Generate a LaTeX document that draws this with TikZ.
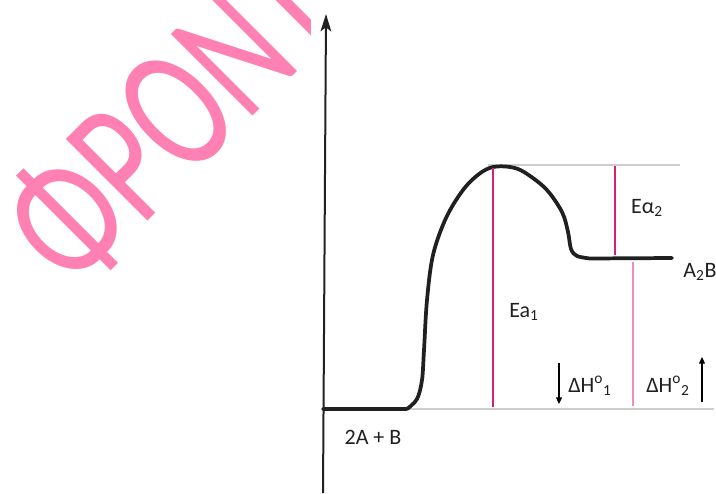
\documentclass[tikz,border=0pt]{standalone}
\usepackage{fontspec}
\setmainfont{Carlito}
\usetikzlibrary{positioning,arrows.meta}
\definecolor{MarkPink}{RGB}{255,128,178}
\definecolor{LevelGray}{RGB}{205,205,205}
\definecolor{EaMagenta}{RGB}{214,30,122}
\definecolor{SoftPink}{RGB}{240,140,192}
\definecolor{CurveBlack}{RGB}{32,32,32}

\begin{document}
\begin{tikzpicture}[x=0.75pt,y=-0.75pt,
    lbl/.style={font=\fontsize{16.5}{19}\selectfont,text=CurveBlack,inner sep=0pt},
    level/.style={draw=LevelGray,line width=1.1pt},
    profile/.style={draw=CurveBlack,line width=2.8pt,line cap=round,line join=round},
    eabar/.style={draw=EaMagenta,line width=1.8pt},
    softbar/.style={draw=SoftPink,line width=1.1pt},
    axisline/.style={draw=CurveBlack,line width=1.5pt,-{Stealth[length=13pt,width=8pt,inset=3pt]}},
    dharrow/.style={draw=black,line width=0.8pt,-{Triangle[length=5pt,width=4.5pt]}}]
  \useasboundingbox (0,0) rectangle (716,493);

  % watermark
  \begin{scope}
    \clip (0,0) rectangle (310,493);
    \node[rotate=45,xscale=0.7,anchor=base west,inner sep=0pt,text=MarkPink,
          font=\fontsize{135}{135}\selectfont] (mark) at (74,295) {ΦΡΟΝΤ};
  \end{scope}

  % axis
  \coordinate (ybot) at (323,493);
  \coordinate (ytop) at (326,14);
  \draw[axisline] (ybot) -- (ytop);

  % energy levels
  \coordinate (r0) at (323,409);
  \coordinate (rend) at (714,409);
  \coordinate (t0) at (488,165);
  \coordinate (tend) at (680,165);
  \draw[level] (r0) -- (rend);
  \draw[level] (t0) -- (tend);

  % reaction profile
  \coordinate (react) at (407,409);
  \coordinate (peak) at (493,166);
  \coordinate (prod) at (590,258.5);
  \coordinate (prodend) at (672,258);
  \draw[profile] (r0) -- (react)
    plot[smooth,tension=0.55] coordinates {(407,409) (417,399) (422,380) (424,350)
      (427,300) (433,255) (446,218) (463,190) (479,174) (493,167) (510,167)
      (524,172) (546,189) (562,212) (568,232) (571,249) (577,256) (590,258.5)}
    -- (prodend);

  % activation energies
  \coordinate (ea1top) at (493,168);
  \coordinate (ea1bot) at (493,407);
  \coordinate (ea2top) at (615,166);
  \coordinate (ea2bot) at (615,255);
  \coordinate (dh2top) at (633,262);
  \coordinate (dh2bot) at (633,406);
  \draw[eabar] (ea1top) -- (ea1bot);
  \draw[eabar,line width=1.4pt] (ea2top) -- (ea2bot);
  \draw[softbar] (dh2top) -- (dh2bot);

  % labels
  \node[lbl] (ea1) at (524,312) {Ea\textsubscript{1}};
  \node[lbl] (ea2) at (647,208) {Eα\textsubscript{2}};
  \node[lbl] (a2b) at (700,272) {A\textsubscript{2}B};
  \node[lbl] (rlbl) at (373,437) {2A + B};
  \node[lbl] (dh1) at (590,386) {ΔH\textsuperscript{o}\textsubscript{1}};
  \node[lbl] (dh2) at (668,386) {ΔH\textsuperscript{o}\textsubscript{2}};

  % enthalpy arrows
  \coordinate (d1top) at (559,363);
  \coordinate (d1bot) at (559,404);
  \coordinate (d2bot) at (702,402);
  \coordinate (d2top) at (702,357);
  \draw[dharrow] (d1top) -- (d1bot);
  \draw[dharrow] (d2bot) -- (d2top);
\end{tikzpicture}
\end{document}
